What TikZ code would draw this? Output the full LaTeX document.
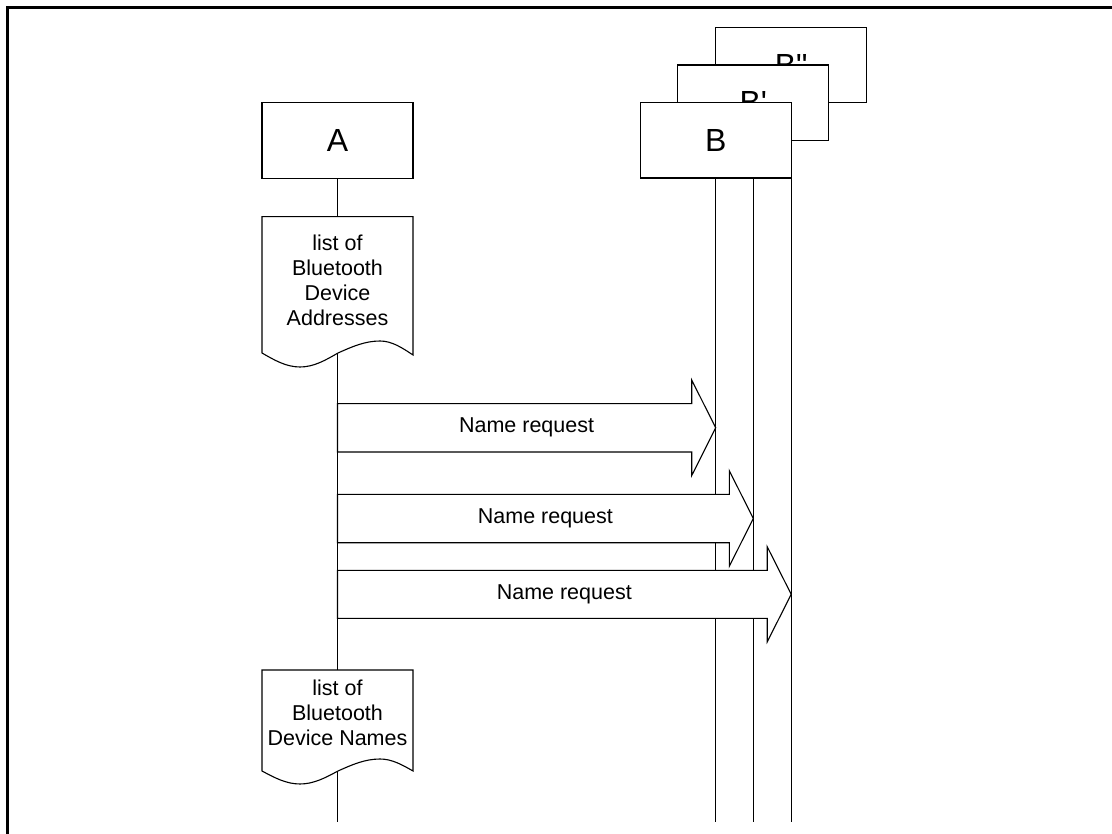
\documentclass[tikz,border=0pt]{standalone}
\usepackage{fontspec}
\newfontfamily\arial{Liberation Sans}
\begin{document}
\begin{tikzpicture}[x=1pt,y=-1pt,
  box/.style={draw,line width=1.3pt,fill=white,minimum width=151pt,minimum height=75.5pt,inner sep=0pt,font=\arial\fontsize{32}{38}\selectfont},
  life/.style={line width=1.3pt},
  docshape/.style={draw,line width=1.1pt,fill=white,line join=miter},
  doctext/.style={align=center,inner sep=0pt,font=\arial\fontsize{21.5}{25}\selectfont},
  bigarrow/.style={draw,line width=1.1pt,fill=white,line join=miter},
  lbl/.style={inner sep=0pt,font=\arial\fontsize{21.5}{25}\selectfont}]
\useasboundingbox (0,0) rectangle (1112,834);
% frame
\draw[line width=2.6pt] (7.5,834) -- (7.5,7.5) -- (1112,7.5);
% box positions
\coordinate (Ac) at (337.5,140.5);
\coordinate (Bc) at (715.7,140.3);
\coordinate (B1c) at (753.3,102.9);
\coordinate (B2c) at (791.2,65);
% lifelines
\coordinate (Aend) at (337.5,822);
\coordinate (Bend) at (715.7,822);
\coordinate (B1end) at (753.3,822);
\coordinate (B2end) at (791.2,822);
\draw[life] (Ac) -- (Aend);
\draw[life] (B2c) -- (B2end);
\draw[life] (B1c) -- (B1end);
\draw[life] (Bc) -- (Bend);
% documents
\draw[docshape] (262,353) -- (262,216.7) -- (413,216.7) -- (413,355)
  sin (380,341) cos (338,353) sin (300,367) cos (262,353) -- cycle;
\node[doctext] (doc1) at (337.5,280) {list of\\Bluetooth\\Device\\Addresses};
\draw[docshape] (262,771) -- (262,670) -- (413,670) -- (413,771)
  sin (380,759) cos (338,771) sin (300,784) cos (262,771) -- cycle;
\node[doctext] (doc2) at (337.5,713) {list of\\Bluetooth\\Device Names};
% arrows
\draw[bigarrow] (337.5,403.7) -- (691.7,403.7) -- (691.7,380) -- (715.7,427.8)
  -- (691.7,475.6) -- (691.7,452) -- (337.5,452) -- cycle;
\node[lbl] (m1) at (526.6,427.8) {Name request};
\draw[bigarrow] (337.5,494.3) -- (729.3,494.3) -- (729.3,470.7) -- (753.3,518.5)
  -- (729.3,566.3) -- (729.3,542.7) -- (337.5,542.7) -- cycle;
\node[lbl] (m2) at (545.4,518.5) {Name request};
\draw[bigarrow] (337.5,570.3) -- (767.2,570.3) -- (767.2,546.7) -- (791.2,594.3)
  -- (767.2,641.9) -- (767.2,618.3) -- (337.5,618.3) -- cycle;
\node[lbl] (m3) at (564.3,594.3) {Name request};
% boxes
\node[box] (A) at (Ac) {A};
\node[box] (B2) at (B2c) {B"};
\node[box] (B1) at (B1c) {B'};
\node[box] (B) at (Bc) {B};
\end{tikzpicture}
\end{document}
